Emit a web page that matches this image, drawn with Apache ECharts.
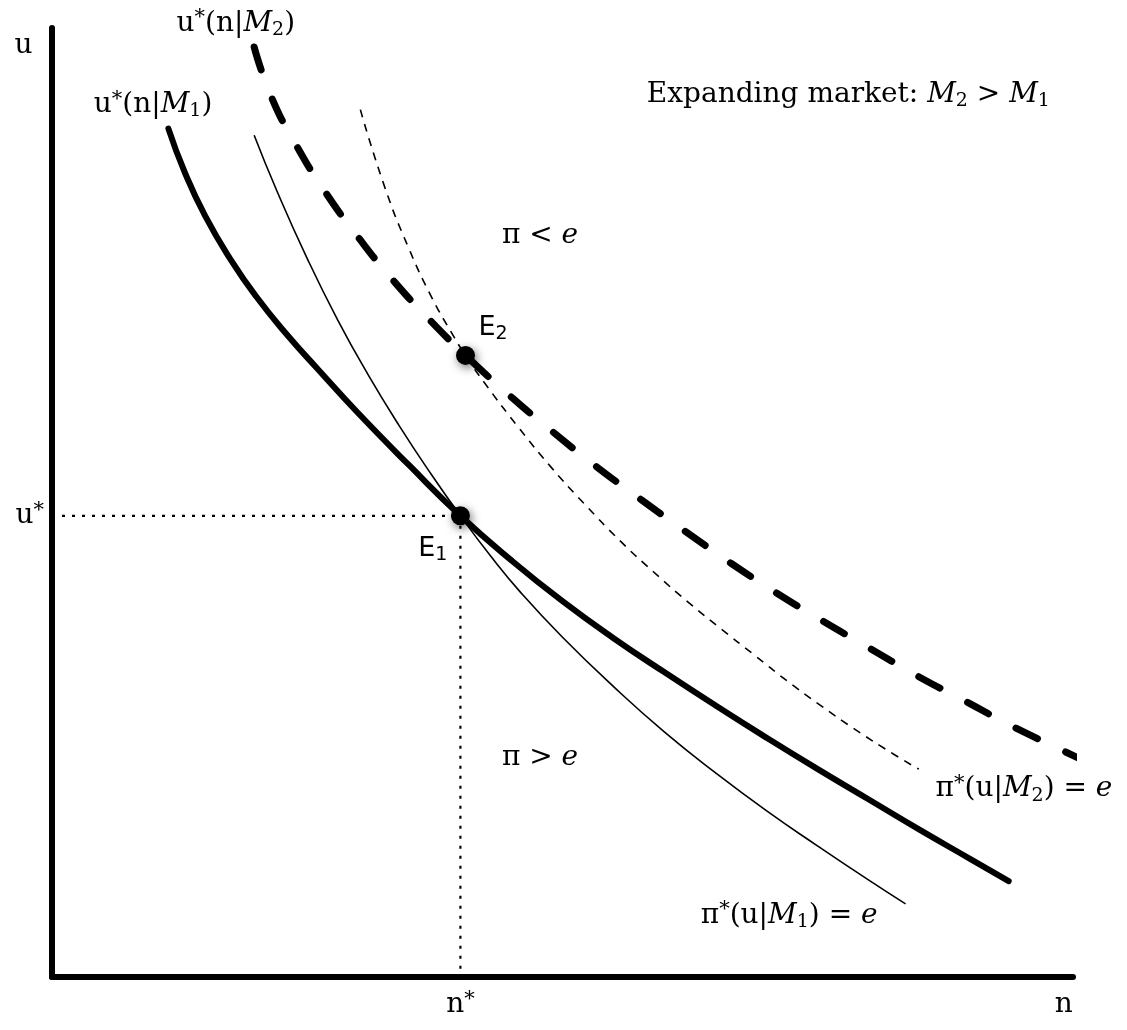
<!DOCTYPE html>
<html><head><meta charset="utf-8">
<script src="https://cdn.jsdelivr.net/npm/echarts@6/dist/echarts.min.js"></script>
<style>html,body{margin:0;padding:0;background:#fff}#c{width:1127px;height:1030px}</style>
</head><body><div id="c"></div>
<script>
// ---- data (abstract units: n on x, u on y) ----
const nStar = 4.0;
const uStar = 4.86;
const e2Point = [4.05, 6.55];

const xTickValues = [nStar];
const xTickLabels = ['{m|n}{sup|*}'];
const yTickValues = [uStar];
const yTickLabels = ['{m|u}{sup|*}'];

// u*(n|M1) thick solid
const uStarM1 = [[1.14,8.94],[1.30,8.48],[1.50,8.02],[1.75,7.56],[2.00,7.17],[2.30,6.77],[2.60,6.41],[3.00,5.94],[3.50,5.39],[4.00,4.86],[4.50,4.39],[5.00,3.96],[5.50,3.57],[6.00,3.21],[6.50,2.86],[7.00,2.52],[7.50,2.19],[8.00,1.87],[8.50,1.55],[9.00,1.24],[9.37,1.01]];
// pi*(u|M1)=e thin solid
const piStarM1 = [[1.98,8.87],[2.20,8.29],[2.50,7.57],[2.80,6.92],[3.10,6.34],[3.40,5.81],[3.70,5.32],[4.00,4.86],[4.30,4.43],[4.60,4.04],[5.00,3.58],[5.50,3.06],[6.00,2.58],[6.50,2.15],[7.00,1.75],[7.50,1.38],[8.00,1.02],[8.36,0.77]];
// u*(n|M2) thick dashed
const uStarM2 = [[1.98,9.80],[2.15,9.27],[2.40,8.75],[2.69,8.25],[3.01,7.78],[3.35,7.33],[3.72,6.90],[4.05,6.55],[4.50,6.11],[4.91,5.74],[5.33,5.38],[5.77,5.03],[6.21,4.69],[6.65,4.36],[7.09,4.05],[7.55,3.75],[8.00,3.47],[8.48,3.17],[8.94,2.91],[9.41,2.64],[10.07,2.30]];
// pi*(u|M2)=e thin dashed
const piStarM2 = [[3.02,9.14],[3.26,8.32],[3.49,7.69],[3.72,7.16],[3.94,6.74],[4.05,6.55],[4.23,6.27],[4.57,5.79],[4.89,5.37],[5.21,4.99],[5.57,4.59],[5.89,4.27],[6.23,3.95],[6.55,3.67],[6.87,3.40],[7.20,3.12],[7.53,2.86],[7.85,2.62],[8.24,2.35],[8.49,2.19]];

const annotationTexts = [
  '{m|u}',
  '{m|u}{sup|*}{m|(n|}{i|M}{sub|2}{m|)}',
  '{m|u}{sup|*}{m|(n|}{i|M}{sub|1}{m|)}',
  '{m|Expanding market: }{i|M}{sub|2}{m| > }{i|M}{sub|1}',
  '{m|π < }{i|e}',
  '{m|π > }{i|e}',
  '{s|E}{ssub|2}',
  '{s|E}{ssub|1}',
  '{m|π}{sup|*}{m|(u|}{i|M}{sub|2}{m|) = }{i|e}',
  '{m|π}{sup|*}{m|(u|}{i|M}{sub|1}{m|) = }{i|e}',
  '{m|n}'
];
const annotationAnchors = [
  [-0.28,9.81],[1.80,10.05],[0.99,9.19],[7.80,9.30],[4.78,7.81],[4.78,2.31],
  [4.32,6.84],[3.73,4.51],[9.52,1.98],[7.22,0.65],[9.91,-0.29]
];

// ---- styles ----
const SERIF = 'DejaVu Serif';
const SANS = 'DejaVu Sans';
const rich = {
  m: {fontFamily: SERIF, fontSize: 28, color: '#000', lineHeight: 32},
  i: {fontFamily: SERIF, fontSize: 28, fontStyle: 'italic', color: '#000', lineHeight: 32},
  sup: {fontFamily: SERIF, fontSize: 21, color: '#000', verticalAlign: 'top', lineHeight: 12},
  sub: {fontFamily: SERIF, fontSize: 19, color: '#000', verticalAlign: 'bottom', lineHeight: 18},
  s: {fontFamily: SANS, fontSize: 27, color: '#000', lineHeight: 32},
  ssub: {fontFamily: SANS, fontSize: 19, color: '#000', verticalAlign: 'bottom', lineHeight: 18}
};

const chart = echarts.init(document.getElementById('c'), null, {renderer: 'canvas'});
const axisCommon = {
  type: 'value', min: 0, max: 10,
  splitLine: {show: false}, axisTick: {show: false},
  axisLine: {show: true, onZero: false, lineStyle: {color: '#000', width: 6, cap: 'round'}}
};
chart.setOption({
  animation: false,
  backgroundColor: '#fff',
  grid: {left: 52, right: 54, top: 28, bottom: 53, containLabel: false, outerBoundsMode: 'none'},
  xAxis: Object.assign({}, axisCommon, {
    axisLabel: {customValues: xTickValues, margin: 12, rich: rich,
      formatter: v => xTickLabels[xTickValues.indexOf(v)] || ''}
  }),
  yAxis: Object.assign({}, axisCommon, {
    axisLabel: {customValues: yTickValues, margin: 8, rich: rich,
      formatter: v => yTickLabels[yTickValues.indexOf(v)] || ''}
  }),
  series: [
    {type: 'line', data: [[0, uStar], [nStar, uStar]], symbol: 'none', clip: false,
      lineStyle: {color: '#000', width: 2.2, type: [3, 7]}, z: 2},
    {type: 'line', data: [[nStar, uStar], [nStar, 0]], symbol: 'none', clip: false,
      lineStyle: {color: '#000', width: 2.2, type: [3, 7]}, z: 2},
    {type: 'line', data: piStarM2, smooth: 0.5, symbol: 'none', clip: false,
      lineStyle: {color: '#000', width: 1.6, type: [8, 7]}, z: 3},
    {type: 'line', data: piStarM1, smooth: 0.5, symbol: 'none', clip: false,
      lineStyle: {color: '#000', width: 1.6}, z: 3},
    {type: 'line', data: uStarM1, smooth: 0.5, symbol: 'none', clip: false,
      lineStyle: {color: '#000', width: 6, cap: 'round'}, z: 4},
    {type: 'line', data: uStarM2, smooth: 0.5, symbol: 'none', clip: false,
      lineStyle: {color: '#000', width: 7, type: [24, 31], cap: 'round'}, z: 4},
    {type: 'scatter', data: [[nStar, uStar], e2Point], symbol: 'circle', symbolSize: 19, clip: false,
      itemStyle: {color: '#000', opacity: 1, shadowBlur: 10, shadowColor: 'rgba(0,0,0,0.55)', shadowOffsetX: 2, shadowOffsetY: 3}, z: 6},
    {type: 'scatter', symbolSize: 0, clip: false, silent: true, z: 7,
      itemStyle: {opacity: 1},
      data: annotationAnchors.map((p, k) => ({name: annotationTexts[k], value: p})),
      label: {show: true, position: 'inside', formatter: p => p.name, rich: rich, color: '#000'}}
  ]
});
</script>
</body></html>
